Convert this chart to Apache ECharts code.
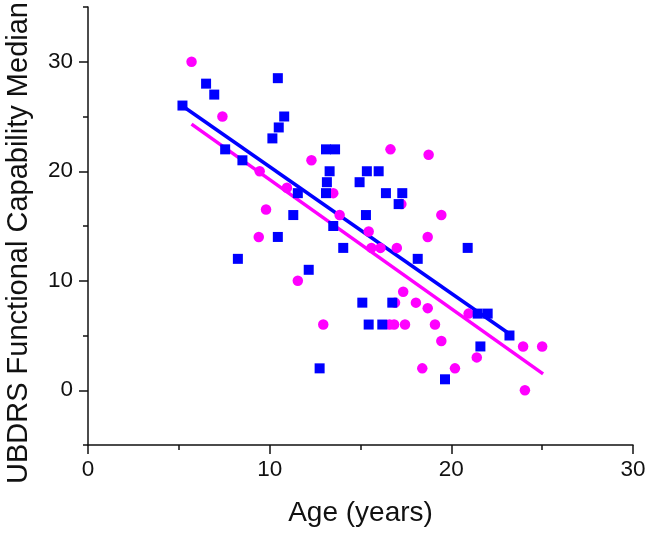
<!DOCTYPE html>
<html>
<head>
<meta charset="utf-8">
<script src="https://cdn.jsdelivr.net/npm/echarts@6/dist/echarts.min.js"></script>
<style>
html,body{margin:0;padding:0;background:#fff;}
#chart{width:651px;height:535px;}
</style>
</head>
<body>
<div id="chart"></div>
<script>
// ---- data ----
const xTitle = 'Age (years)';
const yTitle = 'UBDRS Functional Capability Median';
const xTickLabels = [0, 10, 20, 30];
const yTickLabels = [0, 10, 20, 30];

// blue squares [age, median]
const blueSquares = [
  [5.2,26],[6.5,28],[6.95,27],[7.55,22],[8.5,21],[8.25,12],[10.45,28.5],[10.15,23],
  [10.5,24],[10.8,25],[10.45,14],[11.55,18],[11.3,16],[12.15,11],[12.75,2],[13.1,22],
  [13.6,22],[13.3,20],[13.15,19],[13.1,18],[13.5,15],[14.05,13],[14.95,19],[15.35,20],
  [16.0,20],[15.3,16],[15.1,8],[15.45,6],[16.2,6],[16.4,18],[17.1,17],[17.3,18],
  [16.75,8],[18.15,12],[19.65,1],[20.9,13],[21.45,7],[22.0,7],[21.6,4],[23.2,5]
];
// magenta circles [age, median]
const magentaCircles = [
  [5.7,30],[7.4,25],[9.45,20],[9.4,14],[9.8,16.5],[10.95,18.5],[11.55,10],[12.3,21],
  [12.95,6],[13.5,18],[13.85,16],[15.45,14.5],[15.6,13],[16.1,13],[16.65,22],[17.0,13],
  [17.25,17],[16.9,8],[16.6,6],[16.85,6],[17.35,9],[17.45,6],[18.05,8],[18.4,2],
  [18.7,7.5],[18.7,14],[18.75,21.5],[19.1,6],[19.45,4.5],[19.45,16],[20.2,2],[20.95,7],
  [21.4,3],[23.95,4],[24.05,0],[25.0,4]
];
// fitted lines (end points)
const blueFit = [[5.3,25.85],[23.15,5.2]];
const magentaFit = [[5.7,24.3],[25.05,1.5]];

// ---- layout ----
const W = 651, H = 535;
const L = 88, R = 18, T = 7, B = 90;
const yMin = -5, yMax = 35;
const unitY = (H - T - B) / (yMax - yMin);
const FONT = '"Liberation Sans", Arial, sans-serif';
const AX = '#111';
const BLUE = '#0000ff', MAG = '#ff00ff';

const chart = echarts.init(document.getElementById('chart'), null, {renderer: 'canvas'});
chart.setOption({
  backgroundColor: '#fff',
  animation: false,
  grid: [
    {left: L, right: R, top: T, bottom: B},
    {left: L, right: R, top: T + (yMax - yTickLabels[3]) * unitY, bottom: B + (yTickLabels[0] - yMin) * unitY}
  ],
  xAxis: [
    {
      type: 'value', gridIndex: 0, min: xTickLabels[0], max: xTickLabels[3], interval: 10,
      axisLine: {show: true, onZero: false, lineStyle: {color: AX, width: 1.5}},
      axisTick: {show: true, length: 9, lineStyle: {color: AX, width: 1.5}},
      minorTick: {show: true, splitNumber: 2, length: 5, lineStyle: {color: AX, width: 1.5}},
      axisLabel: {fontSize: 22.5, margin: 13, color: AX, fontFamily: FONT},
      splitLine: {show: false}, minorSplitLine: {show: false},
      name: xTitle, nameLocation: 'middle', nameGap: 54,
      nameTextStyle: {fontSize: 28, color: AX, fontFamily: FONT}
    },
    {type: 'value', gridIndex: 1, min: 0, max: 30, show: false}
  ],
  yAxis: [
    {
      type: 'value', gridIndex: 0, min: yMin, max: yMax, interval: 5,
      axisLine: {show: true, onZero: false, lineStyle: {color: AX, width: 1.5}},
      axisTick: {show: true, length: 5, lineStyle: {color: AX, width: 1.5}},
      axisLabel: {show: false},
      splitLine: {show: false}
    },
    {
      type: 'value', gridIndex: 1, min: yTickLabels[0], max: yTickLabels[3], interval: 10,
      axisLine: {show: false},
      axisTick: {show: true, length: 9, lineStyle: {color: AX, width: 1.5}},
      axisLabel: {fontSize: 22.5, margin: 15, color: AX, fontFamily: FONT},
      splitLine: {show: false}
    }
  ],
  graphic: [{
    type: 'text', x: 19, y: 243, rotation: Math.PI / 2,
    style: {text: yTitle, font: '29px ' + FONT, fill: AX, align: 'center', verticalAlign: 'middle'}
  }],
  series: [
    {type: 'line', xAxisIndex: 0, yAxisIndex: 0, data: magentaFit, showSymbol: false, symbol: 'none',
     lineStyle: {color: MAG, width: 3.5}, z: 2, silent: true},
    {type: 'line', xAxisIndex: 0, yAxisIndex: 0, data: blueFit, showSymbol: false, symbol: 'none',
     lineStyle: {color: BLUE, width: 3.5}, z: 3, silent: true},
    {type: 'scatter', xAxisIndex: 0, yAxisIndex: 0, data: magentaCircles, symbol: 'circle', symbolSize: 10.5,
     itemStyle: {color: MAG, opacity: 1}, z: 4},
    {type: 'scatter', xAxisIndex: 0, yAxisIndex: 0, data: blueSquares, symbol: 'rect', symbolSize: 10,
     itemStyle: {color: BLUE, opacity: 1}, z: 5}
  ]
});
</script>
</body>
</html>
